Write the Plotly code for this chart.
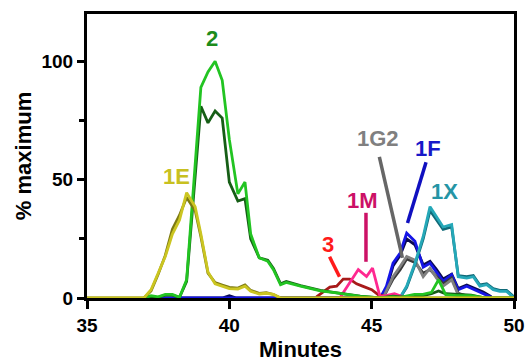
import plotly.graph_objects as go

# ---------------- data ----------------
# 1E
e1_x = [35.0, 37.0, 37.25, 37.5, 37.75, 38.0, 38.25, 38.5, 38.8, 39.0, 39.25, 39.5, 39.75, 40.0, 40.3, 40.55, 40.75, 41.05, 41.3, 41.55, 41.8, 50.0]
e1_a = [0, 0, 3.5, 10.5, 17.5, 27, 33, 44.5, 38.5, 27, 11, 6, 5, 4, 3.8, 5, 2.8, 1.7, 2, 1.5, 0, 0]
e1_b = [0, 0, 3, 10, 18, 29, 35, 42.5, 37, 26, 10.5, 6.5, 5.5, 4.5, 4.2, 5.5, 3.2, 2, 2.3, 1.5, 0, 0]

# 2
t2_x = [37.0, 37.25, 37.5, 37.75, 38.0, 38.25, 38.5, 39.0, 39.25, 39.5, 39.75, 40.0, 40.3, 40.55, 40.75, 41.05, 41.35, 41.55, 41.8, 42.0, 42.5, 43.2, 43.9, 44.6, 45.3, 45.75, 46.0, 46.5, 46.8, 47.1, 47.35, 47.6, 48.0, 48.5, 49.0, 50.0]
t2_a = [0, 1, 0.5, 1.5, 1.5, 0.3, 7.7, 89, 95.5, 100, 92, 67, 44, 49, 27, 17, 15.5, 12, 5.6, 6.6, 5, 3, 2, 0.7, 0, 0.5, 0.3, 1.5, 1.5, 2.4, 7.7, 1.4, 1, 1, 0, 0]
t2_b = [0, 0.5, 0.3, 1.2, 1.2, 0.3, 7, 81, 74, 79, 76, 49, 41, 42, 25, 17, 16, 12.5, 6, 7, 5.2, 3.2, 2, 0.8, 0, 0.8, 0.5, 1, 1, 1.8, 3, 1.8, 1.5, 1.2, 0, 0]

# 1F
f1_x = [37.1, 39.75, 40.0, 40.25, 45.3, 45.52, 45.75, 46.0, 46.23, 46.52, 46.81, 47.05, 47.28, 47.51, 47.81, 48.04, 48.34, 48.63, 48.92, 49.2]
f1_a = [0, 0, 0, 0, 0, 5, 14.7, 19, 27.4, 24, 13, 14.7, 11, 7, 9.8, 3.5, 5, 3.5, 2, 0.3]
f1_b = [0, 0, 1, 0, 0, 4, 13.5, 18, 25, 22.5, 14, 15.5, 12, 8, 10, 4, 5.5, 4, 2.5, 0.5]

# 1G2
g2_x = [45.4, 45.75, 46.0, 46.23, 46.52, 46.81, 47.05, 47.28, 47.51, 47.81, 48.04, 48.3, 48.6]
g2_a = [0, 9, 13.3, 17.5, 16, 9, 12.6, 8.4, 5, 7.7, 1.4, 0.7, 0]
g2_b = [0, 8, 12, 16.5, 15, 10.5, 12, 9, 6, 8.5, 2, 1, 0]

# 1X
x1_x = [45.99, 46.23, 46.52, 46.81, 47.05, 47.28, 47.51, 47.81, 48.04, 48.34, 48.57, 48.8, 49.04, 49.27, 49.5, 49.74, 50.0]
x1_a = [0, 5, 14.7, 26, 38.6, 34.4, 30, 31, 9, 8.4, 9, 5, 5.6, 3.5, 2.8, 2.8, 0]
x1_b = [0, 4.5, 14, 25, 37, 33, 29, 30, 9.5, 9, 9.5, 5.5, 6, 4, 3.2, 3.2, 0.5]

# 1M
m1_x = [43.88, 44.23, 44.53, 44.82, 45.03, 45.29, 45.5, 45.8, 46.1, 46.5]
m1_y = [0, 6.3, 12, 9.1, 12.6, 0.7, 1, 1.8, 0.5, 0]

# 3
r3_x = [43.06, 43.53, 43.77, 44.0, 44.23, 44.47, 44.7, 45.0, 45.23, 45.5]
r3_y = [0.5, 4.6, 5, 8, 8, 6, 4.9, 3.5, 1.4, 0.6]

# labels
lab_text = ["2", "1E", "3", "1M", "1G2", "1F", "1X"]
lab_x = [39.38, 38.14, 43.46, 44.69, 45.21, 46.97, 47.55]
lab_y = [109.7, 51.2, 22.5, 41.4, 67.4, 63.2, 44.9]
lab_col = ["#1c8c1c", "#c8c020", "#ff1a1a", "#cc1166", "#808080", "#1818c8", "#2595a5"]

# pointer lines
ptr_x0 = [43.52, 44.80, 45.27, 46.91]
ptr_y0 = [17.4, 36.0, 59.6, 57.4]
ptr_x1 = [43.87, 44.80, 46.08, 46.26]
ptr_y1 = [9.0, 15.3, 17.0, 31.7]
ptr_col = ["#ff1a1a", "#cc1166", "#666666", "#1010c0"]

# ---------------- figure ----------------
fig = go.Figure()

def add(x, y, color, w=2.8):
    fig.add_trace(go.Scatter(x=x, y=y, mode="lines", line=dict(color=color, width=w),
                             cliponaxis=False, hoverinfo="skip", showlegend=False))

add(f1_x, f1_b, "#0a0a50")
add(f1_x, f1_a, "#1515e6")
add(g2_x, g2_b, "#3a3a3a")
add(g2_x, g2_a, "#808080")
add(x1_x, x1_b, "#106a78")
add(x1_x, x1_a, "#25a8b8")
add(r3_x, r3_y, "#a81a1a")
add(m1_x, m1_y, "#ff2890")
add(t2_x, t2_b, "#165e16")
add(t2_x, t2_a, "#22c422")
add(e1_x, e1_b, "#7d7a12")
add(e1_x, e1_a, "#cbc521")

font_fam = "Liberation Sans, Arial, sans-serif"

for t, x, y, c in zip(lab_text, lab_x, lab_y, lab_col):
    fig.add_annotation(x=x, y=y, text=t, showarrow=False,
                       font=dict(family=font_fam, size=22, color=c, weight="bold"))

for x0, y0, x1, y1, c in zip(ptr_x0, ptr_y0, ptr_x1, ptr_y1, ptr_col):
    fig.add_shape(type="line", x0=x0, y0=y0, x1=x1, y1=y1, xref="x", yref="y",
                  line=dict(color=c, width=3.5))

fig.update_layout(
    width=527, height=362,
    margin=dict(l=87, r=13, t=14, b=64),
    paper_bgcolor="white", plot_bgcolor="white",
    font=dict(family=font_fam, color="black"),
    xaxis=dict(range=[35, 50], tick0=35, dtick=5, ticks="outside", ticklen=8, tickwidth=3,
               tickcolor="black", showline=True, linewidth=3, linecolor="black", mirror=True,
               showgrid=False, zeroline=False, layer="below traces", automargin=False,
               tickfont=dict(size=19, weight="bold", family=font_fam),
               title=dict(text="Minutes", font=dict(size=22, weight="bold", family=font_fam), standoff=12)),
    yaxis=dict(range=[0, 120], tick0=0, dtick=50, ticks="outside", ticklen=7, tickwidth=3,
               tickcolor="black", showline=True, linewidth=3, linecolor="black", mirror=True,
               showgrid=False, zeroline=False, layer="below traces", automargin=False,
               minor=dict(tick0=0, dtick=25, ticks="outside", ticklen=5, tickwidth=3,
                          tickcolor="black", showgrid=False),
               tickfont=dict(size=19, weight="bold", family=font_fam),
               title=dict(text="% maximum", font=dict(size=22, weight="bold", family=font_fam), standoff=4)),
)

fig.write_html("out.html", config={"displayModeBar": False},
               post_script="document.body.style.margin='0px';")
